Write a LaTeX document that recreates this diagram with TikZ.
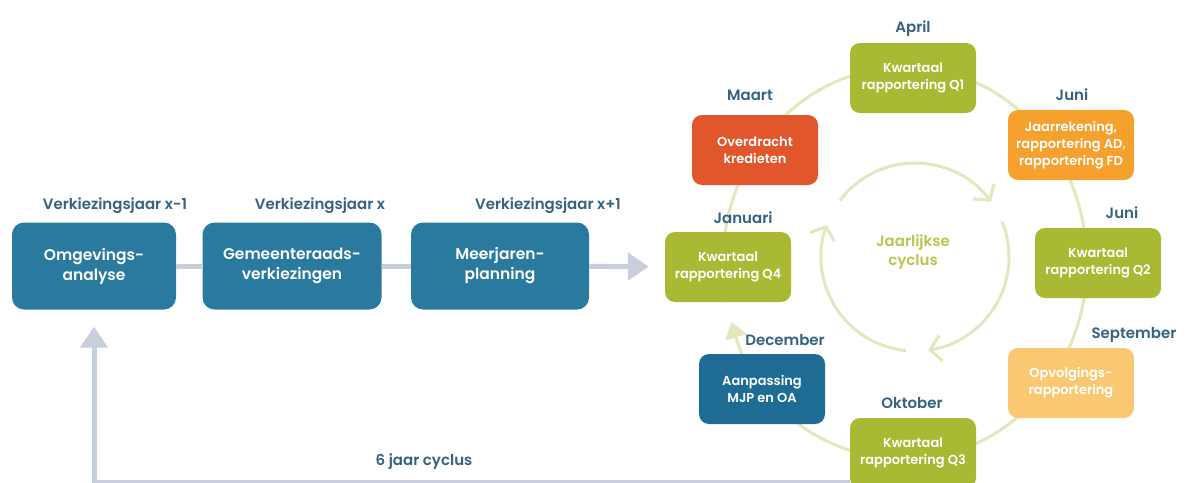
\documentclass[tikz,border=0pt]{standalone}
\usepackage{fontspec}
\setmainfont{Poppins}[BoldFont={* SemiBold}]
\usetikzlibrary{arrows.meta}

\definecolor{stageblue}{RGB}{42,122,160}
\definecolor{darkstage}{RGB}{30,108,148}
\definecolor{labelblue}{RGB}{52,98,128}
\definecolor{kwgreen}{RGB}{170,185,52}
\definecolor{overred}{RGB}{226,86,44}
\definecolor{jrorange}{RGB}{246,160,45}
\definecolor{opvorange}{RGB}{250,200,115}
\definecolor{flowgray}{RGB}{200,207,220}
\definecolor{ringgreen}{RGB}{226,231,190}
\definecolor{cyctext}{RGB}{188,196,80}

\tikzset{
  stage/.style={fill=stageblue,rounded corners=12pt,text=white,align=center,
    minimum height=87pt,font=\bfseries\fontsize{15.5}{20}\selectfont},
  year/.style={text=labelblue,font=\bfseries\fontsize{15}{16}\selectfont},
  qbox/.style={rounded corners=10pt,text=white,align=center,minimum width=126pt,
    minimum height=70pt,inner sep=1pt,font=\bfseries\fontsize{13}{17}\selectfont},
  flow/.style={draw=flowgray,line width=5pt},
  flowtip/.style={-{Triangle[width=27pt,length=21pt]}},
  ring/.style={draw=ringgreen,line width=3pt},
}

\begin{document}
\begin{tikzpicture}[x=1pt,y=-1pt]
  \useasboundingbox (0,0) rectangle (1201,482);
  %% jaarlijkse cyclus: ring and inner circle
  \draw[ring,-{Triangle[width=22pt,length=16pt]}] (905,263) ++(168.5:182 and 196)
    arc[start angle=168.5,end angle=522.5,x radius=182,y radius=196];
  \draw[ring,-{Straight Barb[length=11pt,width=26pt]}] (915,257) ++(-143:94)
    arc[start angle=-143,end angle=-36,radius=94];
  \draw[ring,-{Straight Barb[length=11pt,width=26pt]}] (915,257) ++(-22:94)
    arc[start angle=-22,end angle=82,radius=94];
  \draw[ring,-{Straight Barb[length=11pt,width=26pt]}] (915,257) ++(95.5:94)
    arc[start angle=95.5,end angle=200,radius=94];
  \node[font=\bfseries\fontsize{15}{19}\selectfont,text=cyctext,align=center] (jc) at (913,252) {Jaarlijkse\\cyclus};

  %% boxes of the year
  \node[qbox,fill=kwgreen] (q1) at (913,78) {Kwartaal\\rapportering Q1};
  \node[qbox,fill=jrorange] (jr) at (1071,145) {Jaarrekening,\\rapportering AD,\\rapportering FD};
  \node[qbox,fill=kwgreen] (q2) at (1098,263) {Kwartaal\\rapportering Q2};
  \node[qbox,fill=opvorange] (opv) at (1071,383) {Opvolgings-\\rapportering};
  \node[qbox,fill=kwgreen] (q3) at (913,453) {Kwartaal\\rapportering Q3};
  \node[qbox,fill=darkstage] (aanp) at (762,389) {Aanpassing\\MJP en OA};
  \node[qbox,fill=kwgreen] (q4) at (728,267) {Kwartaal\\rapportering Q4};
  \node[qbox,fill=overred] (kred) at (755,150) {Overdracht\\kredieten};

  %% months
  \node[year] (apr) at (913,29) {April};
  \node[year] (maa) at (750,95) {Maart};
  \node[year] (jun) at (1072,95) {Juni};
  \node[year] (jun2) at (1122,213) {Juni};
  \node[year] (sep) at (1134,335) {September};
  \node[year] (okt) at (912,403) {Oktober};
  \node[year] (dec) at (785,340) {December};
  \node[year] (jan) at (743,218) {Januari};

  %% six year cycle
  \node[stage,minimum width=164pt] (omg) at (94,266) {Omgevings-\\analyse};
  \node[stage,minimum width=179pt] (gem) at (292,266) {Gemeenteraads-\\verkiezingen};
  \node[stage,minimum width=178pt] (mjpl) at (500,266) {Meerjaren-\\planning};
  \node[year] (vj1) at (115,206) {Verkiezingsjaar x-1};
  \node[year] (vj2) at (320,206) {Verkiezingsjaar x};
  \node[year] (vj3) at (548,206) {Verkiezingsjaar x+1};
  \draw[flow] (omg) -- (gem);
  \draw[flow] (gem) -- (mjpl);
  \draw[flow,flowtip,shorten >=16pt] (mjpl) -- (q4);
  %% back to the start
  \coordinate (back) at (850,482);
  \draw[flow,flowtip,shorten >=17pt] (back) -| (omg.south);
  \node[year] (zes) at (424,462) {6 jaar cyclus};
\end{tikzpicture}
\end{document}
